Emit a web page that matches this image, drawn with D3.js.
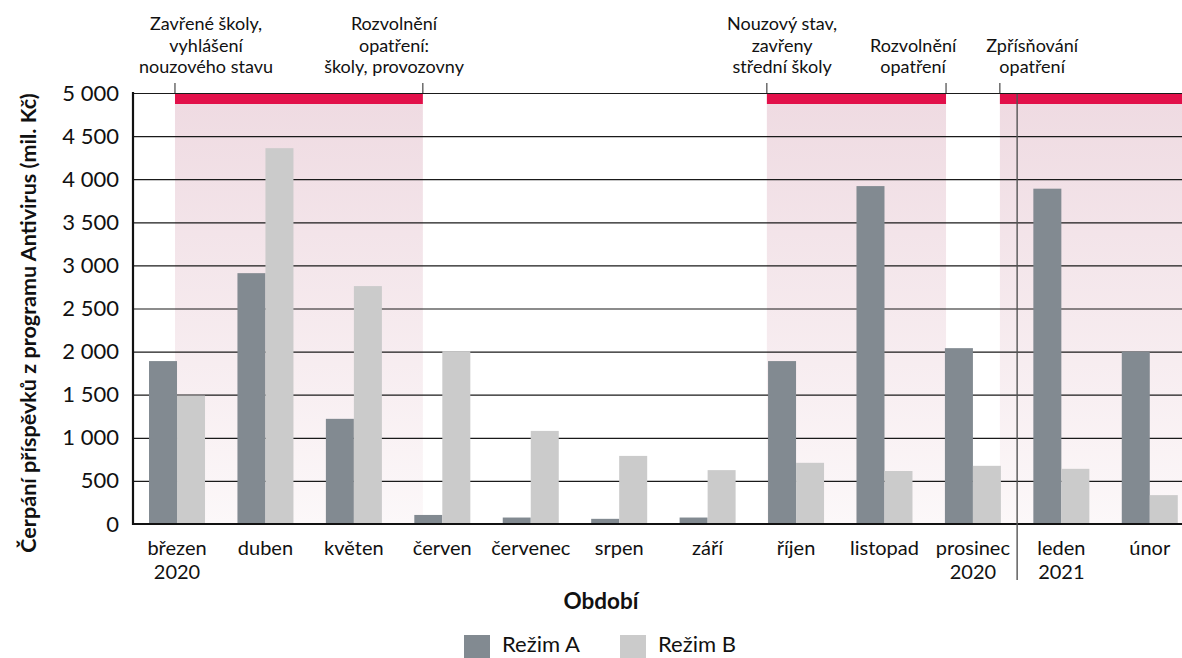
<!DOCTYPE html>
<html><head><meta charset="utf-8">
<script src="https://cdn.jsdelivr.net/npm/d3@7"></script>
<style>
body{margin:0;background:#fff}
svg{display:block}
text{font-family:Lato, "Open Sans", sans-serif; fill:#111}
</style>
</head><body>
<svg id="c" width="1182" height="658"></svg>
<script>
// ---------- data ----------
const categories = ["březen\n2020","duben","květen","červen","červenec","srpen","září","říjen","listopad","prosinec\n2020","leden\n2021","únor"];
const rezimA = [1890, 2910, 1220, 105, 75, 60, 75, 1890, 3920, 2040, 3890, 2000];
const rezimB = [1490, 4360, 2760, 2005, 1080, 790, 625, 710, 615, 675, 640, 335];
const seriesNames = ["Režim A", "Režim B"];
const yTicks = [0, 500, 1000, 1500, 2000, 2500, 3000, 3500, 4000, 4500, 5000];
// restriction periods, in month units from start of March 2020
const periodStart = [0.477, 7.17, 9.805];
const periodEnd   = [3.28, 9.196, 12];
const annotationTexts = [
  ["Zavřené školy,","vyhlášení","nouzového stavu"],
  ["Rozvolnění","opatření:","školy, provozovny"],
  ["Nouzový stav,","zavřeny","střední školy"],
  ["Rozvolnění","opatření"],
  ["Zpřísňování","opatření"]
];
const annotationAt = [0.828, 2.954, 7.343, 8.824, 10.17];
const yearBreak = 10; // boundary between 2020 and 2021

// ---------- layout ----------
const W = 1182, H = 658;
const pLeft = 133, pTop = 93, pBottom = 524;
const svg = d3.select("#c");

const x0 = d3.scaleBand().domain(categories).range([132.8, 1194])
  .paddingInner(0.3667).paddingOuter(0.18335);
const x1 = d3.scaleBand().domain(seriesNames).range([0, x0.bandwidth()]);
const y = d3.scaleLinear().domain([0, 5000]).range([pBottom, pTop]);
const colors = d3.scaleOrdinal().domain(seriesNames).range(["#828a91", "#cbcbcb"]);
const monthX = d3.scaleLinear().domain([0, categories.length]).range(x0.range());

const loc = d3.formatLocale({decimal: ",", thousands: "\u00a0", grouping: [3], currency: ["", ""]});
const fmt = loc.format(",d");

// gradient
const defs = svg.append("defs");
const grad = defs.append("linearGradient").attr("id","pink").attr("x1",0).attr("x2",0).attr("y1",0).attr("y2",1);
grad.append("stop").attr("offset","0%").attr("stop-color","#efdbe2");
grad.append("stop").attr("offset","100%").attr("stop-color","#fcf8f9");

// shaded periods
const periods = periodStart.map((s, i) => ({s, e: periodEnd[i]}));
svg.append("g").selectAll("rect").data(periods).join("rect")
  .attr("x", d => monthX(d.s))
  .attr("width", d => Math.min(W, monthX(d.e)) - monthX(d.s))
  .attr("y", pTop + 11).attr("height", pBottom - pTop - 11)
  .attr("fill", "url(#pink)");

// grid + y axis
const yAxis = svg.append("g").attr("transform", `translate(${pLeft},0)`)
  .call(d3.axisLeft(y).tickValues(yTicks).tickSize(-(W - pLeft)).tickPadding(14).tickFormat(fmt));
yAxis.select(".domain").remove();
yAxis.selectAll(".tick line").attr("stroke", "#1a1a1a").attr("stroke-width", 1.2);
yAxis.selectAll(".tick text").style("font-size", "22px").style("font-family", "Lato, sans-serif").attr("fill", "#111");

// bars
const rows = categories.map((c, i) => ({c, vals: [{k: seriesNames[0], v: rezimA[i]}, {k: seriesNames[1], v: rezimB[i]}]}));
svg.append("g").selectAll("g").data(rows).join("g")
  .attr("transform", d => `translate(${x0(d.c)},0)`)
  .selectAll("rect").data(d => d.vals).join("rect")
  .attr("x", d => x1(d.k)).attr("width", x1.bandwidth())
  .attr("y", d => y(d.v)).attr("height", d => y(0) - y(d.v))
  .attr("fill", d => colors(d.k));

// axis lines
svg.append("line").attr("x1", pLeft).attr("x2", pLeft).attr("y1", pTop - 1).attr("y2", pBottom + 1)
  .attr("stroke", "#111").attr("stroke-width", 2.2);
svg.append("line").attr("x1", pLeft - 1).attr("x2", W).attr("y1", y(0)).attr("y2", y(0))
  .attr("stroke", "#111").attr("stroke-width", 2.2);

// red strips
svg.append("g").selectAll("rect").data(periods).join("rect")
  .attr("x", d => monthX(d.s))
  .attr("width", d => Math.min(W, monthX(d.e)) - monthX(d.s))
  .attr("y", pTop + 1).attr("height", 10)
  .attr("fill", "#e2104a");

// year separator
svg.append("line").attr("x1", monthX(yearBreak)).attr("x2", monthX(yearBreak))
  .attr("y1", pTop + 1).attr("y2", 580).attr("stroke", "#555").attr("stroke-width", 1.4);

// annotation ticks
const tickPos = [];
periods.forEach(p => { tickPos.push(p.s); if (p.e < categories.length) tickPos.push(p.e); });
svg.append("g").selectAll("line").data(tickPos).join("line")
  .attr("x1", d => monthX(d)).attr("x2", d => monthX(d))
  .attr("y1", 83).attr("y2", pTop).attr("stroke", "#222").attr("stroke-width", 1);

// annotation labels (bottom aligned)
const ann = svg.append("g");
annotationTexts.forEach((lines, i) => {
  const t = ann.append("text").attr("text-anchor", "middle").style("font-size", "18px");
  const n = lines.length;
  lines.forEach((ln, j) => {
    t.append("tspan").attr("x", monthX(annotationAt[i])).attr("y", 73 - (n - 1 - j) * 21.5).text(ln);
  });
});

// x labels
const xl = svg.append("g");
categories.forEach(c => {
  const t = xl.append("text").attr("text-anchor", "middle").style("font-size", "20px");
  c.split("\n").forEach((ln, j) => {
    t.append("tspan").attr("x", x0(c) + x0.bandwidth() / 2).attr("y", 555 + j * 24).text(ln);
  });
});

// axis titles
svg.append("text").attr("x", 601).attr("y", 609).attr("text-anchor", "middle")
  .style("font-size", "22.5px").style("font-weight", "bold").text("Období");
svg.append("text").attr("transform", "translate(36,323) rotate(-90)").attr("text-anchor", "middle")
  .style("font-size", "21.6px").style("font-weight", "bold").text("Čerpání příspěvků z programu Antivirus (mil. Kč)");

// legend
const legX = [464, 620];
const lg = svg.append("g");
seriesNames.forEach((s, i) => {
  lg.append("rect").attr("x", legX[i]).attr("y", 635).attr("width", 26).attr("height", 23).attr("fill", colors(s));
  lg.append("text").attr("x", legX[i] + 38).attr("y", 652).style("font-size", "22px").text(s);
});
</script>
</body></html>
